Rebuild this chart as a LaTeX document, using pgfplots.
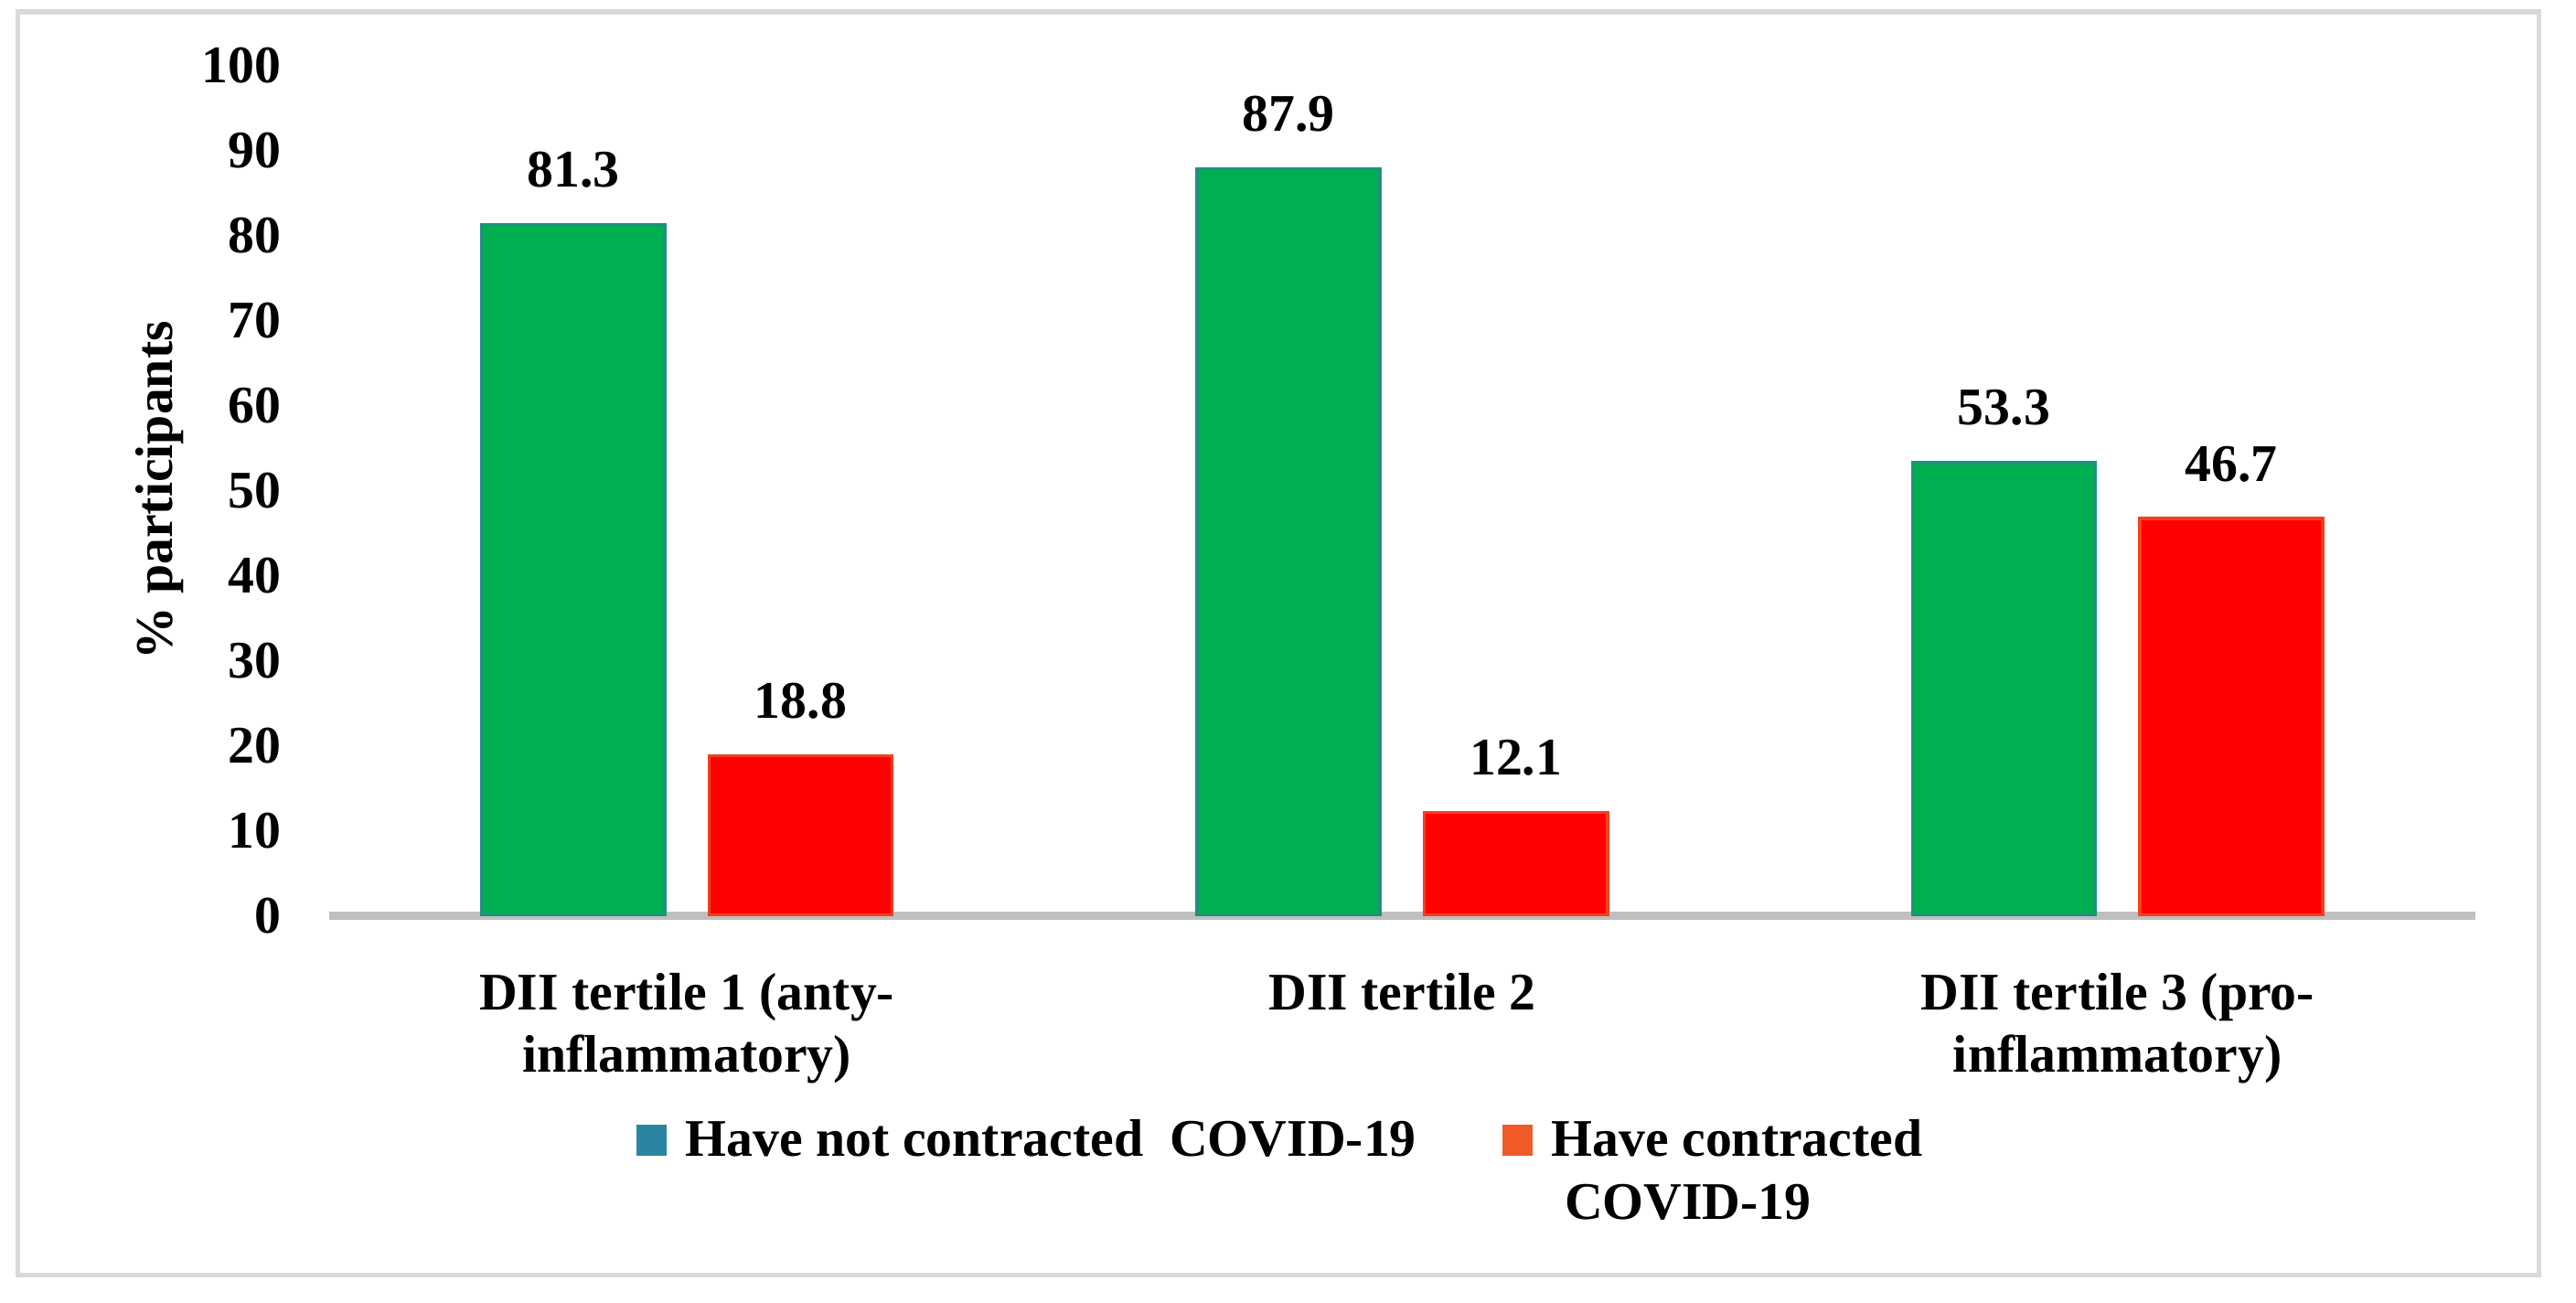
\documentclass[border=0pt]{standalone}
\usepackage{fontspec}
\setmainfont{Liberation Serif}
\usepackage{pgfplots}
\pgfplotsset{compat=1.18}
\definecolor{bargreen}{HTML}{00B050}
\definecolor{baredge}{HTML}{1F9080}
\definecolor{barred}{HTML}{FF0000}
\definecolor{rededge}{HTML}{F4401C}
\definecolor{legteal}{HTML}{2C85A0}
\definecolor{legred}{HTML}{F05A28}
\definecolor{framegray}{HTML}{D9D9D9}
\definecolor{axisgray}{HTML}{BFBFBF}
\newcommand{\bigfont}{\bfseries\fontsize{16}{19}\selectfont}
\begin{document}
\begin{tikzpicture}
\path[use as bounding box] (0,0) rectangle (780pt,394.3pt);
\draw[framegray, line width=1.4pt] (5.3pt,8.3pt) rectangle (768.7pt,390.7pt);
\begin{axis}[
  at={(99.7pt,117.1pt)}, anchor=south west,
  scale only axis, width=649.8pt, height=257.3pt,
  xmin=-0.5, xmax=2.5, ymin=0, ymax=100,
  ybar=13.4pt, bar width=55.4pt,
  separate axis lines,
  axis x line*=bottom, axis y line*=left,
  x axis line style={draw=axisgray, line width=2.5pt},
  y axis line style={draw=none},
  xtick={0,1,2},
  xticklabels={{DII tertile 1 (anty-\\inflammatory)},{DII tertile 2},{DII tertile 3 (pro-\\inflammatory)}},
  xticklabel style={align=center, anchor=north, inner sep=0pt, yshift=-13pt},
  ytick={0,10,...,100},
  yticklabel style={anchor=east, inner sep=0pt, xshift=-14.4pt},
  tick style={draw=none},
  tick label style={font=\bigfont},
  /pgf/number format/assume math mode=true,
  ylabel={\% participants},
  ylabel style={font=\bigfont, at={(axis description cs:-0.0789,0.5)}, anchor=center},
  nodes near coords,
  every node near coord/.append style={font=\bigfont, text=black, anchor=south, inner sep=0pt, yshift=10.6pt},
  legend columns=2,
  legend style={at={(axis description cs:0.1431,-0.233)}, anchor=north west, draw=none, inner sep=0pt, outer sep=0pt, font=\bigfont,
    cells={anchor=base west, inner sep=0pt},
    /tikz/every odd column/.append style={column sep=3.6pt},
    /tikz/every even column/.append style={column sep=24pt}},
]
\addplot[fill=bargreen, draw=baredge, line width=1pt,
  legend image code/.code={\fill[legteal] (0pt,0.8pt) rectangle (8.3pt,9.3pt);}]
  coordinates {(0,81.3) (1,87.9) (2,53.3)};
\addplot[fill=barred, draw=rededge, line width=1pt,
  legend image code/.code={\fill[legred] (0pt,0.8pt) rectangle (8.3pt,9.3pt);}]
  coordinates {(0,18.8) (1,12.1) (2,46.7)};
\legend{Have not contracted~~COVID-19, {\vtop{\hbox{Have contracted}\hbox{\hspace{4pt}COVID-19}}}}
\end{axis}
\end{tikzpicture}
\end{document}
